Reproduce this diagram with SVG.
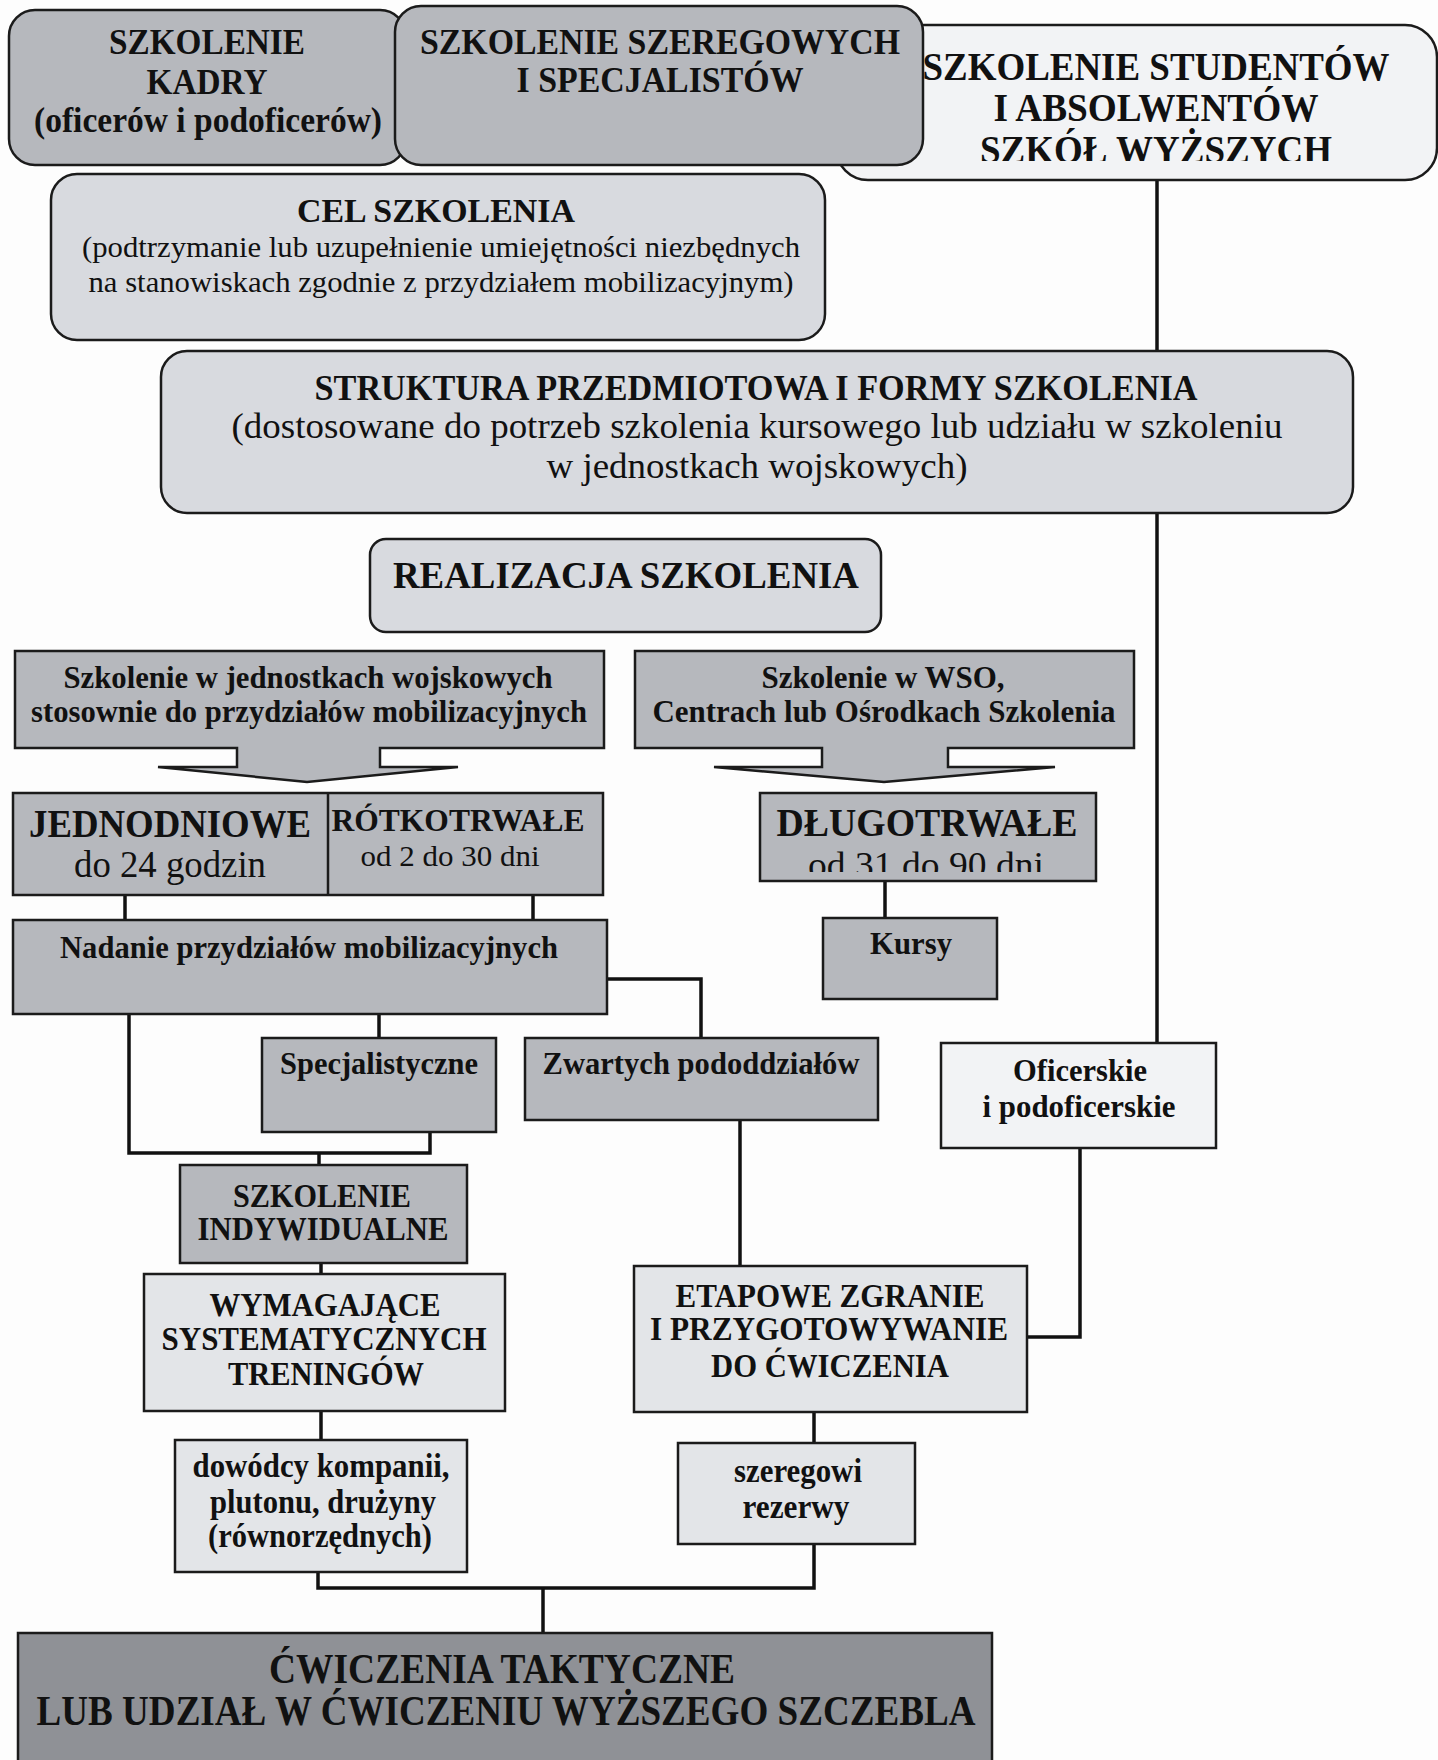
<svg xmlns="http://www.w3.org/2000/svg" width="1438" height="1760" viewBox="0 0 1438 1760">
  <defs>
    <style>
      text { font-family: "Liberation Serif", "Times New Roman", serif; fill: #111; text-anchor: middle; }
      .b { font-weight: bold; }
      .r { font-weight: normal; }
      .box { stroke: #1b1b1b; stroke-width: 2.5; }
      .mid { fill: #b6b8bd; }
      .light { fill: #d8dadf; }
      .pale { fill: #e3e5e8; }
      .white { fill: #f2f3f5; }
      .dark { fill: #8f9196; }
      .wire { fill: none; stroke: #111; stroke-width: 3.5; stroke-linejoin: miter; }
    </style>
    <clipPath id="clipStudents"><rect x="836" y="25" width="602" height="136"/></clipPath>
    <clipPath id="clipLong"><rect x="760" y="793" width="336" height="79"/></clipPath>
  </defs>

  <rect width="1438" height="1760" fill="#fdfdfd"/>

  <!-- connectors -->
  <g id="connectors">
    <line class="wire" x1="1157" y1="180" x2="1157" y2="1043"/>
    <line class="wire" x1="125" y1="895" x2="125" y2="920"/>
    <line class="wire" x1="533" y1="895" x2="533" y2="920"/>
    <polyline class="wire" points="607,979 701,979 701,1038"/>
    <line class="wire" x1="379" y1="1014" x2="379" y2="1038"/>
    <polyline class="wire" points="129,1014 129,1153 430,1153 430,1132"/>
    <line class="wire" x1="319" y1="1153" x2="319" y2="1165"/>
    <line class="wire" x1="885" y1="881" x2="885" y2="918"/>
    <line class="wire" x1="740" y1="1120" x2="740" y2="1266"/>
    <polyline class="wire" points="1080,1148 1080,1337 1027,1337"/>
    <line class="wire" x1="321" y1="1263" x2="321" y2="1274"/>
    <line class="wire" x1="321" y1="1411" x2="321" y2="1440"/>
    <line class="wire" x1="814" y1="1412" x2="814" y2="1443"/>
    <polyline class="wire" points="318,1572 318,1588 814,1588 814,1544"/>
    <line class="wire" x1="543" y1="1588" x2="543" y2="1633"/>
  </g>

  <!-- top row -->
  <g id="students">
    <rect class="box white" x="836" y="25" width="601" height="155" rx="32"/>
    <g clip-path="url(#clipStudents)">
      <text class="b" x="1156" y="80" font-size="40" textLength="467" lengthAdjust="spacingAndGlyphs">SZKOLENIE STUDENTÓW</text>
      <text class="b" x="1156" y="121" font-size="40" textLength="325" lengthAdjust="spacingAndGlyphs">I ABSOLWENTÓW</text>
      <text class="b" x="1156" y="163" font-size="40" textLength="352" lengthAdjust="spacingAndGlyphs">SZKÓŁ WYŻSZYCH</text>
    </g>
  </g>
  <g id="cadre">
    <rect class="box mid" x="9" y="10" width="397" height="155" rx="26"/>
    <text class="b" x="207" y="54" font-size="36" textLength="196" lengthAdjust="spacingAndGlyphs">SZKOLENIE</text>
    <text class="b" x="207" y="94" font-size="36" textLength="121" lengthAdjust="spacingAndGlyphs">KADRY</text>
    <text class="b" x="208" y="132" font-size="36" textLength="348" lengthAdjust="spacingAndGlyphs">(oficerów i podoficerów)</text>
  </g>
  <g id="privates">
    <rect class="box mid" x="395" y="6" width="528" height="159" rx="26"/>
    <text class="b" x="660" y="54" font-size="36" textLength="480" lengthAdjust="spacingAndGlyphs">SZKOLENIE SZEREGOWYCH</text>
    <text class="b" x="660" y="92" font-size="36" textLength="287" lengthAdjust="spacingAndGlyphs">I SPECJALISTÓW</text>
  </g>

  <g id="goal">
    <rect class="box light" x="51" y="174" width="774" height="166" rx="26"/>
    <text class="b" x="436" y="222" font-size="34" textLength="278" lengthAdjust="spacingAndGlyphs">CEL SZKOLENIA</text>
    <text class="r" x="441" y="257" font-size="30" textLength="718" lengthAdjust="spacingAndGlyphs">(podtrzymanie lub uzupełnienie umiejętności niezbędnych</text>
    <text class="r" x="441" y="292" font-size="30" textLength="705" lengthAdjust="spacingAndGlyphs">na stanowiskach zgodnie z przydziałem mobilizacyjnym)</text>
  </g>

  <g id="structure">
    <rect class="box light" x="161" y="351" width="1192" height="162" rx="26"/>
    <text class="b" x="756" y="400" font-size="36" textLength="883" lengthAdjust="spacingAndGlyphs">STRUKTURA PRZEDMIOTOWA I FORMY SZKOLENIA</text>
    <text class="r" x="757" y="438" font-size="35" textLength="1051" lengthAdjust="spacingAndGlyphs">(dostosowane do potrzeb szkolenia kursowego lub udziału w szkoleniu</text>
    <text class="r" x="757" y="478" font-size="35" textLength="421" lengthAdjust="spacingAndGlyphs">w jednostkach wojskowych)</text>
  </g>

  <g id="realization">
    <rect class="box light" x="370" y="539" width="511" height="93" rx="16"/>
    <text class="b" x="626" y="588" font-size="38" textLength="466" lengthAdjust="spacingAndGlyphs">REALIZACJA SZKOLENIA</text>
  </g>

  <!-- block arrows -->
  <g id="units">
    <path class="box mid" d="M15,651 H604 V748 H380 V767 H458 L307,782 L158,767 H237 V748 H15 Z"/>
    <text class="b" x="308" y="688" font-size="31" textLength="489" lengthAdjust="spacingAndGlyphs">Szkolenie w jednostkach wojskowych</text>
    <text class="b" x="309" y="722" font-size="31" textLength="556" lengthAdjust="spacingAndGlyphs">stosownie do przydziałów mobilizacyjnych</text>
  </g>
  <g id="centres">
    <path class="box mid" d="M635,651 H1134 V748 H948 V767 H1055 L884,782 L714,767 H822 V748 H635 Z"/>
    <text class="b" x="883" y="688" font-size="31" textLength="243" lengthAdjust="spacingAndGlyphs">Szkolenie w WSO,</text>
    <text class="b" x="884" y="722" font-size="31" textLength="463" lengthAdjust="spacingAndGlyphs">Centrach lub Ośrodkach Szkolenia</text>
  </g>

  <g id="short-term">
    <rect class="box mid" x="13" y="793" width="590" height="102"/>
    <line class="box" x1="328" y1="793" x2="328" y2="895"/>
    <text class="b" x="170" y="837" font-size="39" textLength="282" lengthAdjust="spacingAndGlyphs">JEDNODNIOWE</text>
    <text class="r" x="170" y="877" font-size="38" textLength="192" lengthAdjust="spacingAndGlyphs">do 24 godzin</text>
    <text class="b" x="458" y="831" font-size="32" textLength="253" lengthAdjust="spacingAndGlyphs">RÓTKOTRWAŁE</text>
    <text class="r" x="450" y="866" font-size="30" textLength="179" lengthAdjust="spacingAndGlyphs">od 2 do 30 dni</text>
  </g>

  <g id="long-term">
    <rect class="box mid" x="760" y="793" width="336" height="88"/>
    <text class="b" x="927" y="836" font-size="39" textLength="301" lengthAdjust="spacingAndGlyphs">DŁUGOTRWAŁE</text>
    <g clip-path="url(#clipLong)">
      <text class="r" x="926" y="877" font-size="36" textLength="236" lengthAdjust="spacingAndGlyphs">od 31 do 90 dni</text>
    </g>
  </g>

  <g id="courses">
    <rect class="box mid" x="823" y="918" width="174" height="81"/>
    <text class="b" x="911" y="954" font-size="32" textLength="82" lengthAdjust="spacingAndGlyphs">Kursy</text>
  </g>

  <g id="assignment">
    <rect class="box mid" x="13" y="920" width="594" height="94"/>
    <text class="b" x="309" y="958" font-size="32" textLength="498" lengthAdjust="spacingAndGlyphs">Nadanie przydziałów mobilizacyjnych</text>
  </g>

  <g id="specialist">
    <rect class="box mid" x="262" y="1038" width="234" height="94"/>
    <text class="b" x="379" y="1074" font-size="32" textLength="198" lengthAdjust="spacingAndGlyphs">Specjalistyczne</text>
  </g>

  <g id="subunits">
    <rect class="box mid" x="525" y="1038" width="353" height="82"/>
    <text class="b" x="701" y="1074" font-size="32" textLength="317" lengthAdjust="spacingAndGlyphs">Zwartych pododdziałów</text>
  </g>

  <g id="officers">
    <rect class="box white" x="941" y="1043" width="275" height="105"/>
    <text class="b" x="1080" y="1081" font-size="32" textLength="134" lengthAdjust="spacingAndGlyphs">Oficerskie</text>
    <text class="b" x="1079" y="1117" font-size="32" textLength="193" lengthAdjust="spacingAndGlyphs">i podoficerskie</text>
  </g>

  <g id="individual">
    <rect class="box mid" x="180" y="1165" width="287" height="98"/>
    <text class="b" x="322" y="1207" font-size="33" textLength="178" lengthAdjust="spacingAndGlyphs">SZKOLENIE</text>
    <text class="b" x="323" y="1240" font-size="33" textLength="251" lengthAdjust="spacingAndGlyphs">INDYWIDUALNE</text>
  </g>

  <g id="training">
    <rect class="box pale" x="144" y="1274" width="361" height="137"/>
    <text class="b" x="325" y="1316" font-size="33" textLength="231" lengthAdjust="spacingAndGlyphs">WYMAGAJĄCE</text>
    <text class="b" x="324" y="1350" font-size="33" textLength="325" lengthAdjust="spacingAndGlyphs">SYSTEMATYCZNYCH</text>
    <text class="b" x="326" y="1385" font-size="33" textLength="196" lengthAdjust="spacingAndGlyphs">TRENINGÓW</text>
  </g>

  <g id="stages">
    <rect class="box pale" x="634" y="1266" width="393" height="146"/>
    <text class="b" x="830" y="1307" font-size="33" textLength="309" lengthAdjust="spacingAndGlyphs">ETAPOWE ZGRANIE</text>
    <text class="b" x="829" y="1340" font-size="33" textLength="358" lengthAdjust="spacingAndGlyphs">I PRZYGOTOWYWANIE</text>
    <text class="b" x="830" y="1377" font-size="33" textLength="238" lengthAdjust="spacingAndGlyphs">DO ĆWICZENIA</text>
  </g>

  <g id="commanders">
    <rect class="box pale" x="175" y="1440" width="292" height="132"/>
    <text class="b" x="321" y="1477" font-size="33" textLength="257" lengthAdjust="spacingAndGlyphs">dowódcy kompanii,</text>
    <text class="b" x="323" y="1513" font-size="33" textLength="226" lengthAdjust="spacingAndGlyphs">plutonu, drużyny</text>
    <text class="b" x="320" y="1547" font-size="33" textLength="224" lengthAdjust="spacingAndGlyphs">(równorzędnych)</text>
  </g>

  <g id="reservists">
    <rect class="box pale" x="678" y="1443" width="237" height="101"/>
    <text class="b" x="798" y="1482" font-size="33" textLength="128" lengthAdjust="spacingAndGlyphs">szeregowi</text>
    <text class="b" x="796" y="1518" font-size="33" textLength="107" lengthAdjust="spacingAndGlyphs">rezerwy</text>
  </g>

  <g id="exercises">
    <rect class="box dark" x="18" y="1633" width="974" height="140"/>
    <text class="b" x="502" y="1683" font-size="42" textLength="466" lengthAdjust="spacingAndGlyphs">ĆWICZENIA TAKTYCZNE</text>
    <text class="b" x="506" y="1725" font-size="42" textLength="939" lengthAdjust="spacingAndGlyphs">LUB UDZIAŁ W ĆWICZENIU WYŻSZEGO SZCZEBLA</text>
  </g>
</svg>
